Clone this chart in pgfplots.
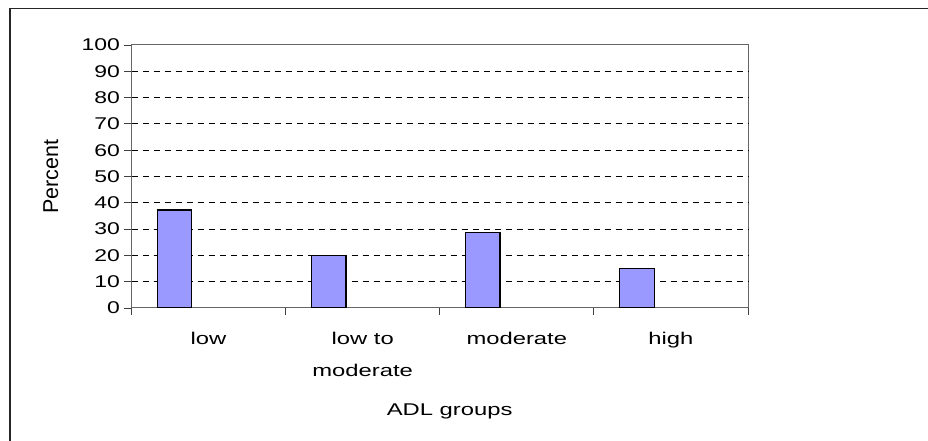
\documentclass[border=0pt]{standalone}
\usepackage{fontspec}
\setmainfont{Liberation Sans}
\newfontfamily\widefont{Liberation Sans}[FakeStretch=1.4]
\newfontfamily\numfont{Liberation Sans}[FakeStretch=1.35]
\usepackage{pgfplots}
\pgfplotsset{compat=1.18}
\definecolor{barblue}{HTML}{9999FF}

\begin{document}
\begin{tikzpicture}
\useasboundingbox (0,0) rectangle (928pt,441pt);
% chart frame (top and left edges)
\draw[line width=1.8pt, black!85] (10pt,0pt) -- (10pt,432.5pt) -- (928pt,432.5pt);
\begin{axis}[
  at={(131.5pt,133pt)}, anchor=south west,
  scale only axis, width=616.5pt, height=263pt,
  xmin=-0.5, xmax=3.5, ymin=0, ymax=100,
  axis line style={black!60, line width=1pt},
  tick align=outside,
  xtick pos=bottom, ytick pos=left,
  major tick length=7pt,
  tick style={black!75, line width=0.8pt},
  xtick={-0.5,0.5,1.5,2.5,3.5},
  xticklabels={},
  extra x ticks={0,1,2,3},
  extra x tick labels={low, low to\\moderate, moderate, high},
  extra x tick style={major tick length=0pt, grid=none,
    tick label style={font=\widefont\fontsize{17}{32}\selectfont, align=center, anchor=north, yshift=-21pt}},
  ytick={0,10,...,100},
  yticklabel style={font=\numfont\fontsize{17}{20}\selectfont, xshift=-1pt},
  /pgf/number format/assume math mode=true,
  extra y ticks={10,20,...,90},
  extra y tick labels={},
  extra y tick style={major tick length=0pt, grid=major},
  grid style={black, dash pattern=on 6pt off 5pt, line width=0.8pt},
  ylabel={Percent},
  every axis y label/.style={at={(axis description cs:-0.1192,0.5)}, rotate=90, anchor=base,
    font=\fontsize{21.5}{24}\selectfont},
  xlabel={ADL groups},
  every axis x label/.style={at={(axis description cs:0.516,-0.4106)}, anchor=base,
    font=\widefont\fontsize{17}{20}\selectfont},
]
\addplot[ybar, bar width=34.5pt, bar shift=-34pt, fill=barblue, draw=black, line width=1.3pt]
  coordinates {(0,37.3) (1,20) (2,28.6) (3,15)};
\end{axis}
\end{tikzpicture}
\end{document}
